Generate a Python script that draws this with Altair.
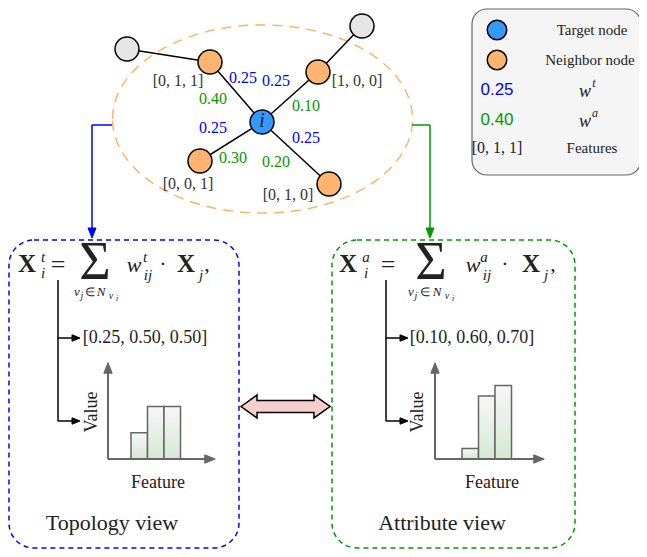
import altair as alt
import pandas as pd

# ---------------- data ----------------
node_ids = ["i", "n1", "n2", "n3", "n4", "o1", "o2"]
node_kind = ["target", "neighbor", "neighbor", "neighbor", "neighbor", "other", "other"]
edges_src = ["i", "i", "i", "i", "n1", "n2"]
edges_dst = ["n1", "n2", "n3", "n4", "o1", "o2"]
neighbors = ["n1", "n2", "n3", "n4"]
neighbor_features = ["[0, 1, 1]", "[1, 0, 0]", "[0, 0, 1]", "[0, 1, 0]"]
w_topology = [0.25, 0.25, 0.25, 0.25]
w_attribute = [0.40, 0.10, 0.30, 0.20]
features = ["f1", "f2", "f3"]
topology_view = [0.25, 0.50, 0.50]
attribute_view = [0.10, 0.60, 0.70]
legend_labels = ["Target node", "Neighbor node", "Features"]
view_titles = ["Topology view", "Attribute view"]

# ---------------- layout (page pixels) ----------------
node_x = [262, 210, 318, 200, 329, 127, 362]
node_y = [122, 62, 72, 161, 184, 49, 26]
feat_lx = [178, 357, 188, 288]
feat_ly = [81, 81, 184, 195]
wt_lx = [243, 276, 213, 306]
wt_ly = [78, 81, 128, 138]
wa_lx = [213, 306, 233, 276]
wa_ly = [99, 106, 158, 162]
bar_start = [131, 462]
bar_w = 16.5

BLUE = "#0000FF"
GREEN = "#009900"
ORANGE = "#FFB570"
FILL = {"target": "#3399FF", "neighbor": ORANGE, "other": "#E6E6E6"}
TXT = "#222222"
SERIF = "Liberation Serif"

W, H = 631, 541
xs = alt.Scale(domain=[8, 8 + W], nice=False, zero=False)
ys = alt.Scale(domain=[8, 8 + H], nice=False, zero=False, reverse=True)


def ex(f="x"):
    return alt.X(f"{f}:Q", scale=xs, axis=None)


def ey(f="y"):
    return alt.Y(f"{f}:Q", scale=ys, axis=None)


pos = {n: (x, y) for n, x, y in zip(node_ids, node_x, node_y)}

# ---------------- rules ----------------
rules = []


def seg(x, y, x2, y2, color="#000000", sw=1.5):
    rules.append(dict(x=x, y=y, x2=x2, y2=y2, color=color, sw=sw))


for s, d in zip(edges_src, edges_dst):
    seg(pos[s][0], pos[s][1], pos[d][0], pos[d][1])
# connectors from ellipse to the views
seg(112, 125, 92, 125, BLUE)
seg(92, 125, 92, 231, BLUE)
seg(412, 125, 430, 125, GREEN)
seg(430, 125, 430, 231, GREEN)
# formula branches
for bx in [58, 386]:
    seg(bx, 280, bx, 421)
    seg(bx, 421, bx + 14, 421)
    seg(bx, 338, bx + 14, 338)
# mini axes
for ax, xend in [(108, 206), (435, 535)]:
    seg(ax, 459, ax, 372, "#666666", 2)
    seg(ax, 459, xend, 459, "#666666", 2)
rules_df = pd.DataFrame(rules)

# ---------------- arrow heads ----------------
DOWN = "M-0.8,-1 L0.8,-1 L0,1 Z"
RIGHT = "M-1,-0.8 L1,0 L-1,0.8 Z"
UP = "M-0.8,1 L0.8,1 L0,-1 Z"
heads = []


def head(x, y, shape, color, size):
    heads.append(dict(x=x, y=y, shape=shape, color=color, size=size))


head(92, 233, DOWN, BLUE, 100)
head(430, 233, DOWN, GREEN, 100)
for bx in [58, 386]:
    head(bx + 18, 421, RIGHT, "#000000", 64)
    head(bx + 18, 338, RIGHT, "#000000", 64)
for ax, xend in [(108, 206), (435, 535)]:
    head(ax, 368, UP, "#666666", 110)
    head(xend + 4, 459, RIGHT, "#666666", 110)
heads_df = pd.DataFrame(heads)

# ---------------- nodes ----------------
nodes_df = pd.DataFrame({
    "x": node_x + [497, 497],
    "y": node_y + [30, 60],
    "fill": [FILL[k] for k in node_kind] + [FILL["target"], FILL["neighbor"]],
    "size": [573] * len(node_x) + [380, 380],
})

# ---------------- boxes ----------------
legend_box = pd.DataFrame({"x": [472], "x2": [641], "y": [9], "y2": [175]})
view_boxes = pd.DataFrame({"x": [9, 332], "x2": [239, 575], "y": [240, 240],
                           "y2": [548, 548], "color": [BLUE, GREEN]})

ELLIPSE = ("M-1,0 C-1,-0.3463 -0.5523,-0.627 0,-0.627 C0.5523,-0.627 1,-0.3463 1,0 "
           "C1,0.3463 0.5523,0.627 0,0.627 C-0.5523,0.627 -1,0.3463 -1,0 Z")
ellipse_df = pd.DataFrame({"x": [262.5], "y": [119]})
DARROW = ("M-1,0 L-0.64,-0.258 L-0.64,-0.135 L0.64,-0.135 L0.64,-0.258 L1,0 "
          "L0.64,0.258 L0.64,0.135 L-0.64,0.135 L-0.64,0.258 Z")
darrow_df = pd.DataFrame({"x": [285.5], "y": [406.5]})

# ---------------- bars ----------------
bars = []
for vi, vals in enumerate([topology_view, attribute_view]):
    for j, (f, v) in enumerate(zip(features, vals)):
        x0 = bar_start[vi] + j * bar_w
        bars.append(dict(view=vi, feature=f, value=v, x=x0, x2=x0 + bar_w, base=0.0))
bars_df = pd.DataFrame(bars)
bs = alt.Scale(domain=[-0.857, 4.295], nice=False, zero=False)

# ---------------- texts ----------------
texts = []


def add(t, x, y, size, color=TXT, style="n", angle=0):
    texts.append(dict(text=t, x=x, y=y, size=size, color=color, style=style, angle=angle))


for f, x, y in zip(neighbor_features, feat_lx, feat_ly):
    add(f, x, y, 16, "#333333")
for w, x, y in zip(w_topology, wt_lx, wt_ly):
    add(f"{w:.2f}", x, y, 16, BLUE)
for w, x, y in zip(w_attribute, wa_lx, wa_ly):
    add(f"{w:.2f}", x, y, 16, GREEN)
add("i", 262, 121, 20, style="i")

# legend
add(legend_labels[0], 592, 30, 15)
add(legend_labels[1], 590, 60, 15)
add(f"{w_topology[0]:.2f}", 497, 90, 17, BLUE, "s")
add("w", 585, 92, 18, style="i")
add("t", 594, 83, 12, style="i")
add(f"{w_attribute[0]:.2f}", 497, 120, 17, GREEN, "s")
add("w", 585, 122, 18, style="i")
add("a", 595, 113, 12, style="i")
add(neighbor_features[0], 497, 148, 16)
add(legend_labels[2], 592, 148, 15)


def formula(sup, xs_):
    (xX, xs1, xeq, xsum, sub_x, xw, xws, xdot, xX2, xj, xc) = xs_
    add("X", xX, 264, 25, style="b")
    add(sup, xs1, 257, 15, style="i")
    add("i", xs1, 273, 15, style="i")
    add("=", xeq, 265, 26)
    add("Σ", xsum, 263, 54)
    sx = sub_x
    add("v", sx[0], 292, 13, style="i")
    add("j", sx[1], 296, 10, style="i")
    add("∈", sx[2], 292, 12)
    add("N", sx[3], 292, 13, style="i")
    add("v", sx[4], 296, 10, style="i")
    add("i", sx[5], 299, 8, style="i")
    add("w", xw, 265, 22, style="i")
    add(sup, xws, 257, 15, style="i")
    add("ij", xws + 3, 275, 15, style="i")
    add("·", xdot, 264, 22)
    add("X", xX2, 264, 25, style="b")
    add("j", xj, 275, 15, style="i")
    add(",", xc, 264, 22)


formula("t", (27, 43, 58, 95, (77, 82, 90, 101, 111, 117), 134, 145, 163, 186, 201, 207))
formula("a", (348, 366, 388, 431, (411, 416, 425, 437, 447, 453), 473, 484, 505, 531, 546, 553))


def vec(vals):
    return "[" + ", ".join(f"{v:.2f}" for v in vals) + "]"


add(vec(topology_view), 145, 338, 18)
add(vec(attribute_view), 472, 338, 18)
add("Value", 92, 412, 18, angle=270)
add("Value", 418, 412, 18, angle=270)
add("Feature", 158, 483, 18)
add("Feature", 492, 483, 18)
add(view_titles[0], 112, 523, 22)
add(view_titles[1], 442, 523, 22)
texts_df = pd.DataFrame(texts)


def text_layer(style, font, **kw):
    d = texts_df[texts_df["style"] == style]
    return alt.Chart(d).mark_text(font=font, align="center", baseline="middle", **kw).encode(
        x=ex(), y=ey(), text="text:N",
        size=alt.Size("size:Q", scale=None, legend=None),
        color=alt.Color("color:N", scale=None, legend=None),
        angle=alt.Angle("angle:Q", scale=None),
    )


# ---------------- layers ----------------
legend_layer = alt.Chart(legend_box).mark_rect(
    cornerRadius=15, fill="#F5F5F5", stroke="#666666", strokeWidth=1.2
).encode(x=ex(), x2="x2:Q", y=ey(), y2="y2:Q")

views_layer = alt.Chart(view_boxes).mark_rect(
    cornerRadius=25, fillOpacity=0, strokeWidth=1.5, strokeDash=[5, 4]
).encode(x=ex(), x2="x2:Q", y=ey(), y2="y2:Q",
         stroke=alt.Stroke("color:N", scale=None, legend=None))

ellipse_layer = alt.Chart(ellipse_df).mark_point(
    shape=ELLIPSE, size=90000, filled=False, stroke="#FFB366", strokeWidth=1.5,
    strokeDash=[10, 7], opacity=1
).encode(x=ex(), y=ey())

rules_layer = alt.Chart(rules_df).mark_rule().encode(
    x=ex(), y=ey(), x2="x2:Q", y2="y2:Q",
    color=alt.Color("color:N", scale=None, legend=None),
    strokeWidth=alt.StrokeWidth("sw:Q", scale=None, legend=None),
)

heads_layer = alt.Chart(heads_df).mark_point(filled=True, opacity=1, strokeWidth=1).encode(
    x=ex(), y=ey(),
    shape=alt.Shape("shape:N", scale=None, legend=None),
    fill=alt.Fill("color:N", scale=None, legend=None),
    stroke=alt.Stroke("color:N", scale=None, legend=None),
    size=alt.Size("size:Q", scale=None, legend=None),
)

nodes_layer = alt.Chart(nodes_df).mark_point(
    shape="circle", filled=True, opacity=1, stroke="#000000", strokeWidth=1.5
).encode(
    x=ex(), y=ey(),
    fill=alt.Fill("fill:N", scale=None, legend=None),
    size=alt.Size("size:Q", scale=None, legend=None),
)

darrow_layer = alt.Chart(darrow_df).mark_point(
    shape=DARROW, size=7921, filled=True, opacity=1, fill="#F8CECC",
    stroke="#000000", strokeWidth=1.5
).encode(x=ex(), y=ey())

main = alt.layer(
    legend_layer, views_layer, ellipse_layer, rules_layer, heads_layer,
    nodes_layer, darrow_layer,
    text_layer("n", SERIF),
    text_layer("i", SERIF, fontStyle="italic"),
    text_layer("b", SERIF, fontWeight="bold"),
    text_layer("s", "Liberation Sans"),
)

bars_layer = alt.Chart(bars_df).mark_rect(
    fill={"gradient": "linear", "x1": 0, "y1": 0, "x2": 0, "y2": 1,
          "stops": [{"offset": 0, "color": "#F7F7F7"}, {"offset": 1, "color": "#D5E8D4"}]},
    stroke="#666666", strokeWidth=1.5
).encode(
    x=ex(), x2="x2:Q",
    y=alt.Y("value:Q", scale=bs, axis=None), y2="base:Q",
)

chart = alt.layer(bars_layer, main).resolve_scale(y="independent").properties(
    width=W, height=H, padding=0, background="white",
    autosize=alt.AutoSizeParams(type="none"),
).configure_view(strokeWidth=0)

chart.save("out.html", embed_options={"renderer": "svg", "actions": False})
